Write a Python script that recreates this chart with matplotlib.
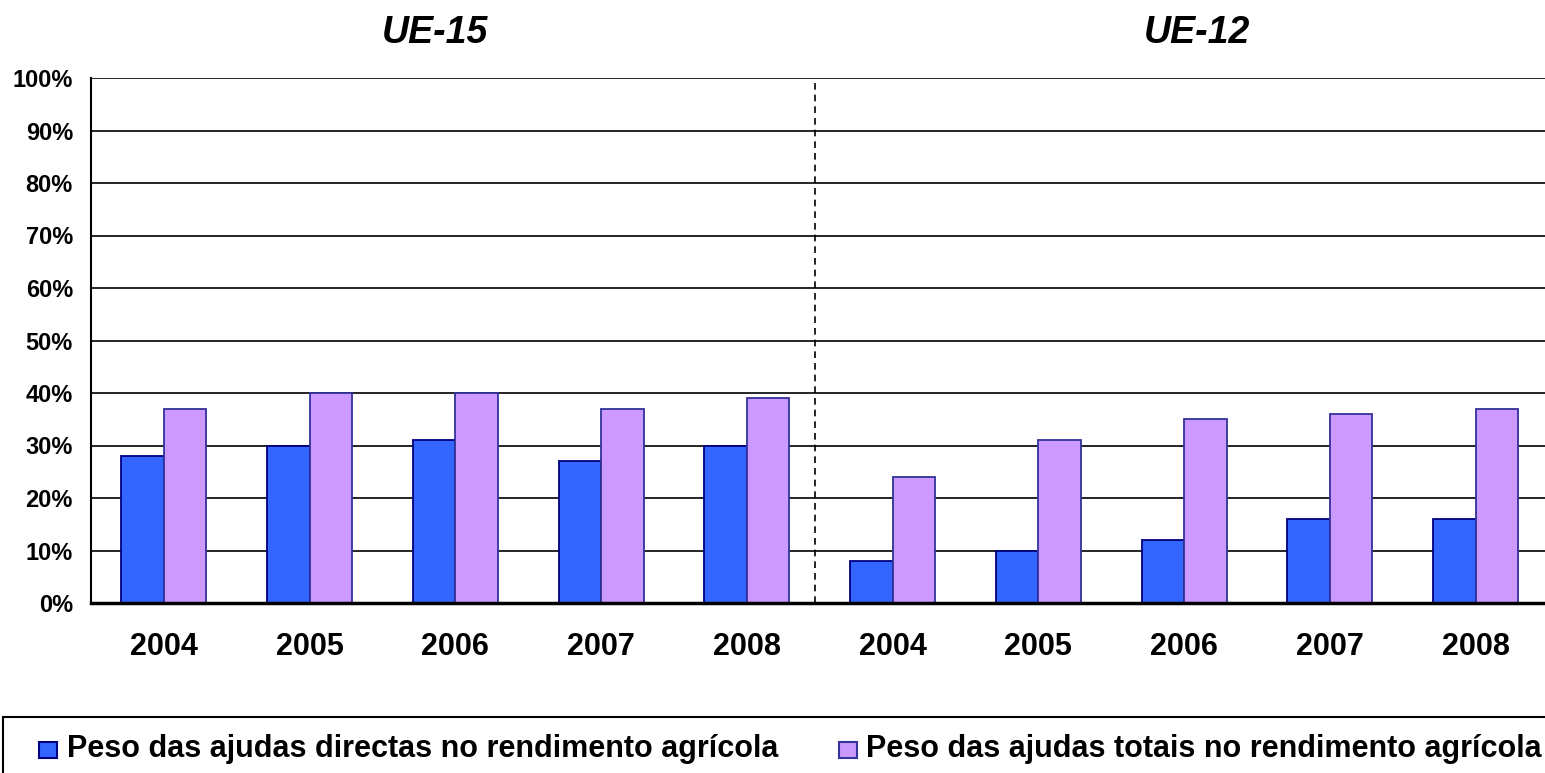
import matplotlib
matplotlib.use("Agg")
import matplotlib.pyplot as plt
from matplotlib.patches import Rectangle
import numpy as np

plt.rcParams['font.family'] = ['Liberation Sans', 'DejaVu Sans']

years = ["2004", "2005", "2006", "2007", "2008", "2004", "2005", "2006", "2007", "2008"]
groups = ["UE-15", "UE-12"]
directas = [28, 30, 31, 27, 30, 8, 10, 12, 16, 16]
totais = [37, 40, 40, 37, 39, 24, 31, 35, 36, 37]
series_names = ["Peso das ajudas directas no rendimento agrícola",
                "Peso das ajudas totais no rendimento agrícola"]
yticks = [0, 10, 20, 30, 40, 50, 60, 70, 80, 90, 100]

W, H = 1545, 773
fig = plt.figure(figsize=(W / 100, H / 100), dpi=100)
ax_left = 91 / W
ax_right = 1548.5 / W
ax_bottom = 1 - 603 / H
ax_top = 1 - 78 / H
ax = fig.add_axes([ax_left, ax_bottom, ax_right - ax_left, ax_top - ax_bottom])

x = np.arange(len(years))
bw = 0.292
c1, c2 = "#3366FF", "#CC99FF"
ax.bar(x - bw / 2, directas, width=bw, color=c1, edgecolor="#000080", linewidth=1.3, zorder=3)
ax.bar(x + bw / 2, totais, width=bw, color=c2, edgecolor="#333399", linewidth=1.3, zorder=3)

ax.set_xlim(-0.5, len(years) - 0.5)
ax.set_ylim(0, 100)
ax.set_yticks(yticks)
ax.set_yticklabels([f"{v}%" for v in yticks], fontsize=17, fontweight="bold")
ax.set_xticks(x)
ax.set_xticklabels(years, fontsize=22, fontweight="bold")
ax.tick_params(axis="both", length=0)
ax.tick_params(axis="x", pad=21)
ax.tick_params(axis="y", pad=13)
ax.yaxis.grid(True, color="black", linewidth=1.2, zorder=0)
ax.set_axisbelow(True)
for s in ["top", "right"]:
    ax.spines[s].set_visible(False)
ax.spines["left"].set_linewidth(1.5)
ax.spines["bottom"].set_linewidth(2.5)
ax.spines["bottom"].set_zorder(4)

ax.axvline(4.467, color="black", linestyle=(0, (4, 3)), linewidth=1.2, zorder=2)

fig.text(435 / W, 1 - 33 / H, groups[0], ha="center", va="center",
         fontsize=27, fontweight="bold", fontstyle="italic")
fig.text(1197 / W, 1 - 33 / H, groups[1], ha="center", va="center",
         fontsize=27, fontweight="bold", fontstyle="italic")

# legend box
fig.patches.append(Rectangle((3 / W, -0.05), 1.1, (1 - 717 / H) + 0.05,
                             transform=fig.transFigure, facecolor="white",
                             edgecolor="black", linewidth=1.5))
ly = 1 - 749 / H
sq_w, sq_h = 18, 16
for px, col, ec, name, tx in [(39, c1, "#000080", series_names[0], 67),
                              (839, c2, "#333399", series_names[1], 866)]:
    fig.patches.append(Rectangle((px / W, 1 - 758 / H), sq_w / W, sq_h / H,
                                 transform=fig.transFigure, facecolor=col,
                                 edgecolor=ec, linewidth=1.5))
    fig.text(tx / W, ly, name, ha="left", va="center", fontsize=22, fontweight="bold")

fig.savefig("out.png", dpi=100)
